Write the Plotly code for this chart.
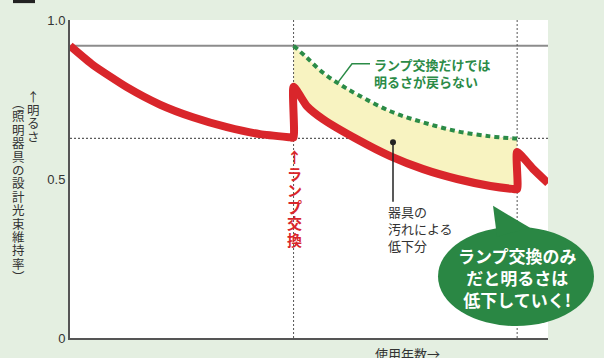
import plotly.graph_objects as go

# ---------------- data ----------------
# first lamp period (years, design luminous flux maintenance factor)
seg1_x = [0.0, 0.51, 1.28, 2.01, 2.75, 3.51, 4.25, 4.92, 5.0]
seg1_y = [0.919, 0.859, 0.788, 0.734, 0.694, 0.663, 0.641, 0.631, 0.630]
# second lamp period (after lamp replacement only)
seg2_x = [5.0, 5.30, 5.66, 6.42, 7.16, 7.90, 8.66, 9.40, 9.89, 10.0]
seg2_y = [0.790, 0.729, 0.688, 0.625, 0.572, 0.531, 0.500, 0.478, 0.469, 0.468]
# third lamp period (start)
seg3_x = [10.0, 10.36, 10.69]
seg3_y = [0.585, 0.531, 0.487]
# "brightness would return if only lamp" curve (green dotted)
ideal_x = [5.0, 5.30, 5.66, 6.04, 6.42, 7.16, 7.90, 8.66, 9.40, 9.89, 10.0]
ideal_y = [0.919, 0.881, 0.834, 0.797, 0.766, 0.713, 0.678, 0.650, 0.634, 0.628, 0.627]

initial_level = 0.919
design_level = 0.628
lamp_change_years = [5.0, 10.0]
x_max = 10.69

y_tickvals = [0, 0.5, 1.0]
y_ticktext = ["0", "0.5", "1.0"]

title_text = "使用年数と明るさの変化イメージ"
ylabel_main = "↑明るさ"
ylabel_sub = "︵照明器具の設計光束維持率︶"
xlabel = "使用年数→"
lamp_label = "↑ランプ交換"
green_note = "ランプ交換だけでは<br>明るさが戻らない"
dirt_note = "器具の<br>汚れによる<br>低下分"
bubble_text = "ランプ交換のみ<br>だと明るさは<br>低下していく!"

# ---------------- style ----------------
W, H = 604, 358
ML, MR, MT, MB = 70, 56, 20, 18
PW, PH = W - ML - MR, H - MT - MB
BG = "#e4efe1"
RED = "#d9262b"
GREEN = "#2b8b47"
BUBBLE = "#2a8744"
YELLOW = "#f8f3c1"
JP = "Noto Sans CJK JP"


def px2p(px, py):
    return (px - ML) / PW, (H - MB - py) / PH


red_x = seg1_x + seg2_x + seg3_x
red_y = seg1_y + seg2_y + seg3_y

fig = go.Figure()

# gray initial level line
fig.add_trace(go.Scatter(x=[0, x_max], y=[initial_level] * 2, mode="lines",
                         line=dict(color="#8c8c8c", width=2), hoverinfo="skip"))
# dotted design level line
fig.add_trace(go.Scatter(x=[0, x_max], y=[design_level] * 2, mode="lines",
                         line=dict(color="#333333", width=1, dash="2px,2px"), hoverinfo="skip"))
# yellow fill between curves
fig.add_trace(go.Scatter(x=seg2_x, y=seg2_y, mode="lines", line=dict(width=0, shape="spline"),
                         hoverinfo="skip"))
fig.add_trace(go.Scatter(x=ideal_x, y=ideal_y, mode="lines", line=dict(width=0, shape="spline"),
                         fill="tonexty", fillcolor=YELLOW, hoverinfo="skip"))
# vertical dotted lamp change lines
for xv in lamp_change_years:
    fig.add_trace(go.Scatter(x=[xv, xv], y=[0, 1], mode="lines",
                             line=dict(color="#555555", width=1, dash="2px,2px"), hoverinfo="skip"))
# green dotted curve
fig.add_trace(go.Scatter(x=ideal_x, y=ideal_y, mode="lines",
                         line=dict(color=GREEN, width=4, dash="5px,4px", shape="spline"),
                         hoverinfo="skip"))
# red curve
fig.add_trace(go.Scatter(x=red_x, y=red_y, mode="lines",
                         line=dict(color=RED, width=8, shape="spline", smoothing=0.5),
                         hoverinfo="skip"))

shapes = []
annotations = []

# speech bubble
bx0, by0 = px2p(438, 228)
bx1, by1 = px2p(594, 328)
shapes.append(dict(type="circle", xref="paper", yref="paper", x0=bx0, x1=bx1, y0=by1, y1=by0,
                   fillcolor=BUBBLE, line=dict(width=0), layer="above"))
t1, t2, t3 = px2p(493, 207), px2p(497, 238), px2p(530, 229)
shapes.append(dict(type="path", xref="paper", yref="paper",
                   path=f"M {t1[0]} {t1[1]} L {t2[0]} {t2[1]} L {t3[0]} {t3[1]} Z",
                   fillcolor=BUBBLE, line=dict(width=0), layer="above"))
bc = px2p(517, 279)
annotations.append(dict(x=bc[0], y=bc[1], xref="paper", yref="paper", text=bubble_text,
                        showarrow=False, xanchor="center", yanchor="middle", align="center",
                        font=dict(family=JP, size=17, color="white", weight="bold")))

# green note + leader
a, b, c = px2p(370, 64), px2p(352, 64), px2p(337, 84)
shapes.append(dict(type="path", xref="paper", yref="paper",
                   path=f"M {a[0]} {a[1]} L {b[0]} {b[1]} L {c[0]} {c[1]}",
                   line=dict(color=GREEN, width=1.5)))
gp = px2p(372, 73)
annotations.append(dict(x=gp[0], y=gp[1], xref="paper", yref="paper", text=green_note,
                        showarrow=False, xanchor="left", yanchor="middle", align="left",
                        font=dict(family=JP, size=13, color=GREEN, weight="bold")))

# dirt note + leader
d0, d1 = px2p(393, 143), px2p(393, 203)
shapes.append(dict(type="line", xref="paper", yref="paper", x0=d0[0], y0=d0[1], x1=d1[0], y1=d1[1],
                   line=dict(color="#222222", width=1.5)))
r0, r1 = px2p(390, 140), px2p(396, 146)
shapes.append(dict(type="circle", xref="paper", yref="paper", x0=r0[0], y0=r1[1], x1=r1[0], y1=r0[1],
                   fillcolor="#222222", line=dict(width=0)))
dp = px2p(386, 230)
annotations.append(dict(x=dp[0], y=dp[1], xref="paper", yref="paper", text=dirt_note,
                        showarrow=False, xanchor="left", yanchor="middle", align="left",
                        font=dict(family=JP, size=13, color="#333333")))


def vertical(text, cx, cy, step, glyph_size, color, bold=False):
    """Upright vertical writing: one character per line, tight line pitch."""
    weight = "bold" if bold else "normal"
    body = "<br>".join(
        f"<span style='font-size:{glyph_size}px'>{ch}</span>" for ch in text)
    p = px2p(cx, cy)
    annotations.append(dict(x=p[0], y=p[1], xref="paper", yref="paper", text=body,
                            showarrow=False, xanchor="center", yanchor="middle", align="center",
                            font=dict(family=JP, size=step / 1.3, color=color, weight=weight)))


vertical(ylabel_main, 33, 117, 13.2, 12.5, "#333333")
vertical(ylabel_sub, 18, 191, 13.4, 12.5, "#333333")
vertical(lamp_label, 294, 199, 16.5, 15, RED, bold=True)

# x label
xp = px2p(407, 356)
annotations.append(dict(x=xp[0], y=xp[1], xref="paper", yref="paper", text=xlabel,
                        showarrow=False, xanchor="center", yanchor="middle",
                        font=dict(family=JP, size=13, color="#333333")))

# clipped title at the very top
tp = px2p(340, 5)
annotations.append(dict(x=tp[0], y=tp[1], xref="paper", yref="paper", text=title_text,
                        showarrow=False, xanchor="center", yanchor="bottom",
                        font=dict(family=JP, size=24, color="#111111", weight="bold")))
k0, k1 = px2p(13, -6), px2p(35, 3)
shapes.append(dict(type="rect", xref="paper", yref="paper", x0=k0[0], x1=k1[0], y0=k1[1], y1=k0[1],
                   fillcolor="#222222", line=dict(width=0)))

fig.update_layout(
    width=W, height=H,
    margin=dict(l=ML, r=MR, t=MT, b=MB),
    paper_bgcolor=BG, plot_bgcolor="white",
    showlegend=False,
    shapes=shapes, annotations=annotations,
    xaxis=dict(range=[0, x_max], showgrid=False, zeroline=False, showticklabels=False,
               showline=True, linecolor="#555555", linewidth=2, ticks="", fixedrange=True),
    yaxis=dict(range=[0, 1], showgrid=False, zeroline=False, tickvals=y_tickvals,
               ticktext=y_ticktext, ticks="", showline=True, linecolor="#555555", linewidth=2,
               tickfont=dict(family="Liberation Sans", size=13, color="#333333"), fixedrange=True),
)

fig.write_html(
    "out.html",
    config={"displayModeBar": False},
    post_script=(
        "document.body.style.margin='0';document.body.style.padding='0';"
        f"document.body.style.background='{BG}';document.body.style.overflow='hidden';"
    ),
)
